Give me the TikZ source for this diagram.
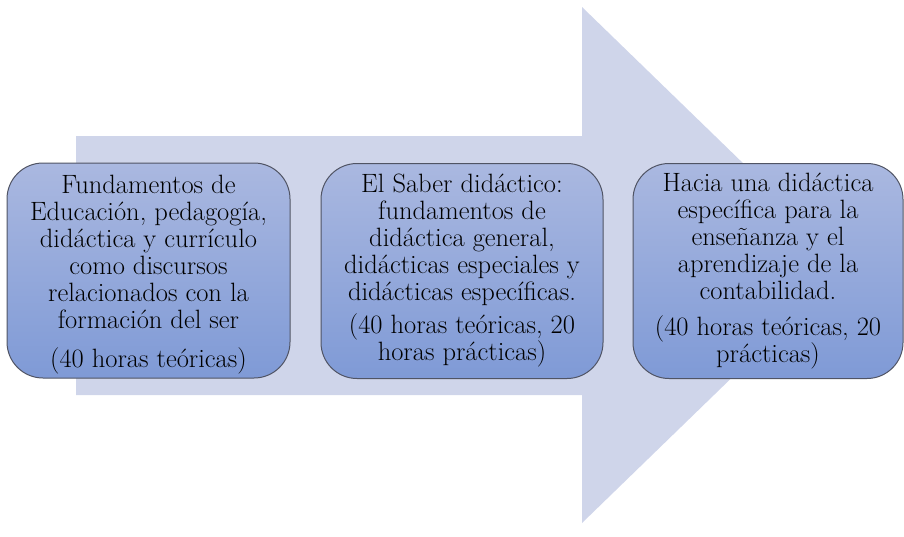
\documentclass[tikz,border=0pt]{standalone}
\definecolor{arrowc}{RGB}{207,213,234}
\definecolor{boxtop}{RGB}{170,184,224}
\definecolor{boxbot}{RGB}{127,154,214}
\definecolor{bordc}{RGB}{80,84,100}
\begin{document}
\begin{tikzpicture}[x=1pt,y=-1pt,
  stagebox/.style={draw=bordc, line width=1pt, rounded corners=36pt,
    top color=boxtop, bottom color=boxbot, inner sep=0pt, align=center,
    minimum height=215pt, text=black,
    font=\fontsize{26.5}{27}\selectfont}]
\useasboundingbox (0,0) rectangle (904,536);
\fill[arrowc] (76,136) -- (582,136) -- (582,7) -- (848,265) -- (582,523) -- (582,395) -- (76,395) -- cycle;
\node[stagebox, minimum width=283pt] (s1) at (148.5,270.5)
  {\rule{0pt}{27pt}Fundamentos de\\Educación, pedagogía,\\didáctica y currículo\\como discursos\\relacionados con la\\formación del ser\\[12pt](40 horas teóricas)};
\node[stagebox, minimum width=282pt] (s2) at (462,271)
  {El Saber didáctico:\\fundamentos de\\didáctica general,\\didácticas especiales y\\didácticas específicas.\\[6pt](40 horas teóricas, 20\\horas prácticas)};
\node[stagebox, minimum width=270pt] (s3) at (768,271)
  {Hacia una didáctica\\específica para la\\enseñanza y el\\aprendizaje de la\\contabilidad.\\[9pt](40 horas teóricas, 20\\prácticas)};
\end{tikzpicture}
\end{document}
